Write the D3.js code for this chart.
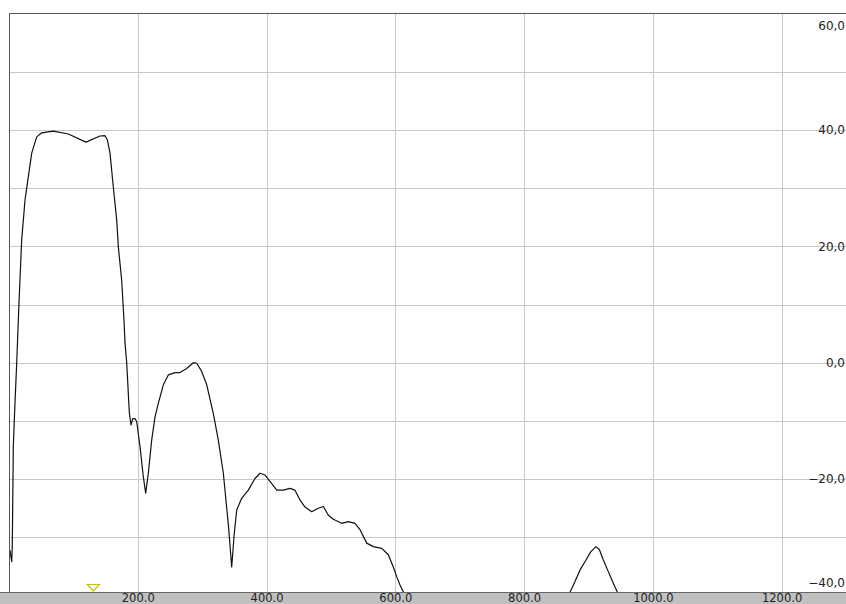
<!DOCTYPE html>
<html>
<head>
<meta charset="utf-8">
<script src="https://cdn.jsdelivr.net/npm/d3@7"></script>
<style>
    html, body {margin: 0; padding: 0; background: #fff; overflow: hidden;}
    svg {display: block;}
    text {font-family: 'DejaVu Sans', sans-serif; font-size: 12px; fill: #222;}
</style>
</head>
<body>
<svg></svg>
<script>
// trace: frequency / level, null = off the bottom of the display
const FREQUENCIES = [
    1.5, 4.2, 5.1, 6.7, 9.3, 12.0, 15.5, 19.7, 24.9, 27.5, 35.3, 43.0, 50.8, 68.8, 92.1, 119.6,
    141.3, 149.1, 152.7, 156.9, 162.0, 167.3, 169.8, 175.0, 178.6, 180.2, 182.8, 186.9, 189.5,
    192.1, 195.7, 198.3, 203.5, 208.6, 212.3, 216.4, 221.6, 226.8, 231.9, 239.7, 247.4, 257.8,
    265.6, 276.0, 286.3, 291.5, 299.3, 307.1, 317.3, 325.1, 332.9, 341.0, 345.9, 349.9, 353.7,
    361.4, 371.7, 382.1, 389.9, 397.6, 405.4, 415.8, 426.1, 436.4, 444.2, 452.0, 459.8, 470.2,
    480.4, 488.2, 496.0, 503.7, 516.7, 527.0, 537.4, 545.2, 555.6, 565.8, 578.9, 589.1, 596.9,
    602.2, 607.3, 612.4, 617.0, 750.0,
    866.0, 872.4, 879.1, 886.9, 894.6, 903.5, 911.7, 916.9, 923.1, 930.8, 938.6, 943.9, 949.0
];
const LEVELS = [
    -32.2, -34.2, -31.6, -14.4, -6.9, 0.0, 10.3, 21.1, 28.0, 30.0, 36.0, 38.8, 39.5, 39.8, 39.3, 37.9,
    38.95, 39.0, 38.3, 36.0, 30.2, 24.5, 19.9, 14.2, 7.3, 3.4, 0.0, -8.6, -10.7,
    -9.6, -9.6, -10.1, -14.4, -19.6, -22.4, -19.0, -13.3, -9.3, -7.0, -3.8, -2.1, -1.7,
    -1.7, -1.0, 0.0, -0.1, -1.5, -3.8, -8.7, -13.3, -19.0, -28.2, -35.1, -29.3, -25.3,
    -23.3, -21.9, -19.9, -19.0, -19.3, -20.4, -21.9, -21.9, -21.6, -21.9, -23.6, -24.8, -25.6,
    -25.0, -24.7, -26.2, -26.9, -27.6, -27.3, -27.6, -28.7, -31.0, -31.6, -31.9, -33.0, -35.1,
    -36.8, -38.2, -39.35, -40.5, null,
    -40.5, -39.2, -37.6, -35.6, -34.2, -32.5, -31.6, -32.1, -33.9, -35.9, -37.9, -39.2, -40.4
];
const X_TICKS = [200, 400, 600, 800, 1000, 1200];
const Y_GRID = [50, 40, 30, 20, 10, 0, -10, -20, -30];
const Y_LABELS = [60, 40, 20, 0, -20, -40];
const MARKER_FREQ = 131;

const WIDTH = 846;
const HEIGHT = 604;
const PLOT = {left: 9, right: 846, top: 13, bottom: 592};

const svg = d3.select('svg')
    .attr('width', WIDTH)
    .attr('height', HEIGHT);

/* ************** SCALES ************** */
const x = d3.scaleLinear().domain([0, 1300]).range([PLOT.left, PLOT.right]);
const y = d3.scaleLinear().domain([-40, 60]).range([595.5, 13.5]);

const commaFormat = d3.formatLocale({decimal: ',', thousands: '.', grouping: [3], currency: ['', '']}).format('.1f');

/* ************** GRID ************** */
const grid = svg.append('g');
grid.selectAll('.vgrid').data(X_TICKS).enter()
    .append('line')
    .attr('x1', d => Math.round(x(d)) + 0.5)
    .attr('x2', d => Math.round(x(d)) + 0.5)
    .attr('y1', PLOT.top)
    .attr('y2', PLOT.bottom)
    .attr('stroke', '#c8c8c8');

grid.selectAll('.hgrid').data(Y_GRID).enter()
    .append('line')
    .attr('x1', PLOT.left)
    .attr('x2', PLOT.right)
    .attr('y1', d => Math.round(y(d)) + 0.5)
    .attr('y2', d => Math.round(y(d)) + 0.5)
    .attr('stroke', '#c8c8c8');

// frame: top and left edge
svg.append('line')
    .attr('x1', PLOT.left).attr('x2', PLOT.right)
    .attr('y1', PLOT.top + 0.5).attr('y2', PLOT.top + 0.5)
    .attr('stroke', '#555');
svg.append('line')
    .attr('x1', PLOT.left + 0.5).attr('x2', PLOT.left + 0.5)
    .attr('y1', PLOT.top).attr('y2', PLOT.bottom)
    .attr('stroke', '#555');

/* ************** TRACE ************** */
svg.append('clipPath').attr('id', 'plotClip')
    .append('rect')
    .attr('x', PLOT.left + 1).attr('y', PLOT.top + 1)
    .attr('width', PLOT.right - PLOT.left - 1)
    .attr('height', PLOT.bottom - PLOT.top - 1);

const trace = FREQUENCIES.map((f, i) => ({f: f, v: LEVELS[i]}));
const line = d3.line()
    .defined(d => d.v !== null)
    .x(d => x(d.f))
    .y(d => y(d.v));

svg.append('path')
    .datum(trace)
    .attr('clip-path', 'url(#plotClip)')
    .attr('fill', 'none')
    .attr('stroke', '#111')
    .attr('stroke-width', 1.2)
    .attr('stroke-linejoin', 'round')
    .attr('d', line);

/* ************** Y LABELS ************** */
svg.selectAll('.ylabel').data(Y_LABELS).enter()
    .append('text')
    .classed('ylabel', true)
    .attr('x', 845)
    .attr('y', d => Math.min(Math.max(y(d), 26), 583))//keep top/bottom label inside the plot
    .attr('dy', '0.35em')
    .attr('text-anchor', 'end')
    .text(d => commaFormat(d));

/* ************** MARKER ************** */
const mx = x(MARKER_FREQ);
svg.append('path')
    .attr('d', `M${mx - 6},${584.5} L${mx + 6},${584.5} L${mx},${591} Z`)
    .attr('fill', 'none')
    .attr('stroke', '#c4c400')
    .attr('stroke-width', 1.2);

/* ************** X AXIS BAND ************** */
svg.append('rect')
    .attr('x', 0).attr('y', PLOT.bottom)
    .attr('width', WIDTH).attr('height', HEIGHT - PLOT.bottom)
    .attr('fill', '#c0c0c0');
svg.append('line')
    .attr('x1', 0).attr('x2', WIDTH)
    .attr('y1', PLOT.bottom + 0.5).attr('y2', PLOT.bottom + 0.5)
    .attr('stroke', '#666');

const xAxis = svg.append('g')
    .attr('transform', `translate(0, ${PLOT.bottom})`)
    .call(d3.axisBottom(x).tickValues(X_TICKS).tickFormat(d3.format('.1f')).tickSize(0).tickPadding(0));
xAxis.select('.domain').remove();
xAxis.selectAll('text')
    .attr('fill', '#222')
    .attr('dy', '0.85em')//sits low in the grey band, bottom of the digits at the window edge
    .style('font-family', "'DejaVu Sans', sans-serif")
    .style('font-size', '11.5px');
</script>
</body>
</html>
